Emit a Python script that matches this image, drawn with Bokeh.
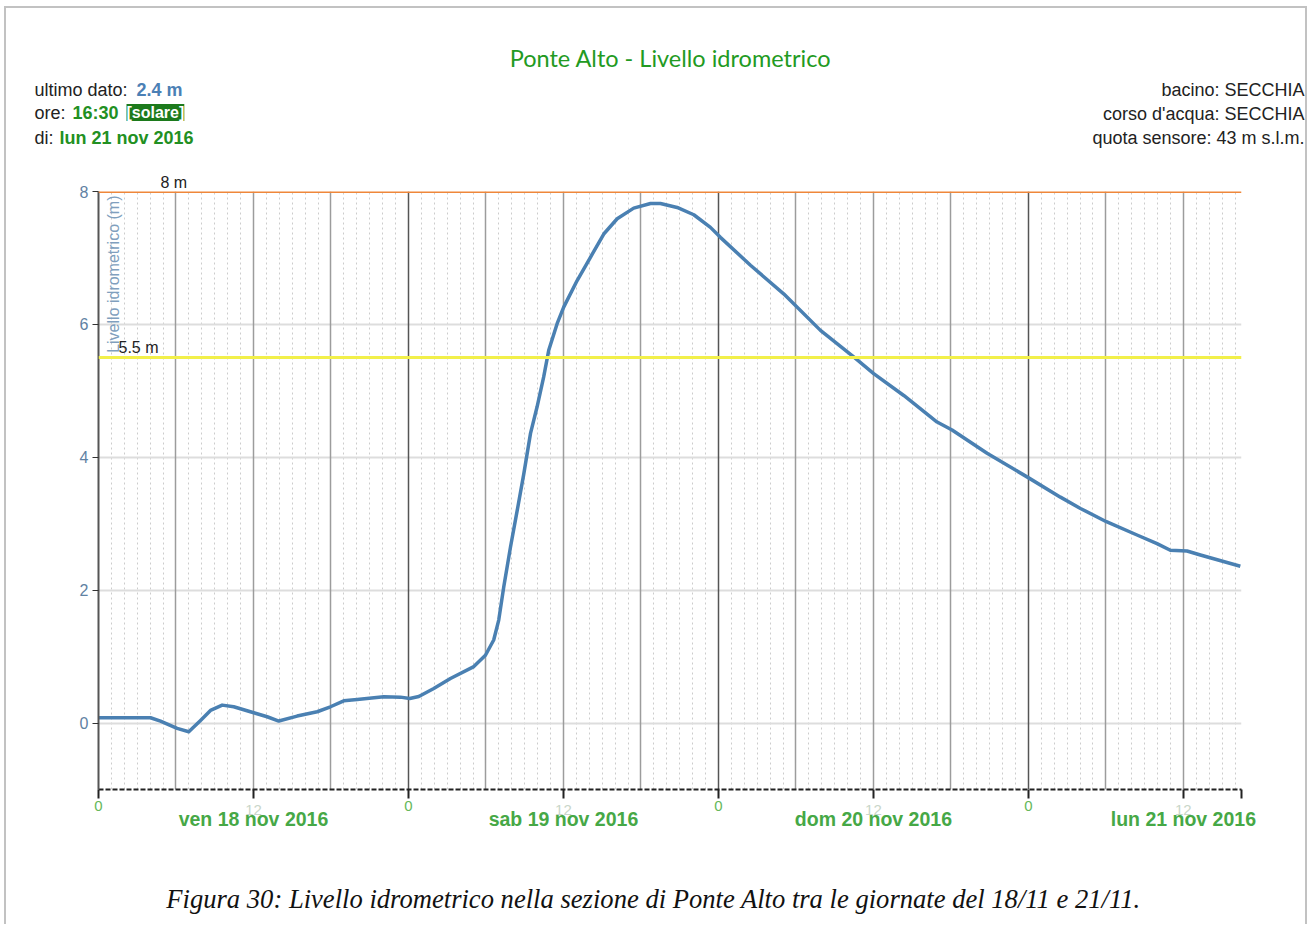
import math
from bokeh.plotting import figure
from bokeh.layouts import column
from bokeh.models import Range1d, FixedTicker, LinearAxis, Grid, Span, Label, Title, Plot
from bokeh.embed import file_html
from bokeh.resources import INLINE

# ---- data (hours since 18 nov 2016 00:00, level in m) ----
hours = [0.0, 4.03, 4.80, 6.09, 6.99, 7.90, 8.67, 9.58, 10.47, 12.02, 13.06, 13.96,
         15.38, 16.93, 17.96, 18.99, 20.03, 22.09, 23.38, 24.10, 24.80, 25.96, 27.25,
         29.06, 29.96, 30.60, 30.99, 31.38, 31.90, 32.42, 32.93, 33.45, 33.96, 34.47,
         34.86, 35.51, 36.02, 37.06, 38.09, 39.12, 40.16, 41.44, 42.74, 43.51, 44.80,
         46.09, 47.38, 48.15, 50.48, 53.05, 55.90, 58.47, 60.02, 62.35, 64.93, 66.09,
         68.80, 72.02, 74.48, 76.03, 78.04, 80.41, 81.96, 82.99, 84.28, 85.32, 88.41]
level = [0.08, 0.08, 0.03, -0.08, -0.13, 0.04, 0.19, 0.27, 0.245, 0.155, 0.095, 0.03,
         0.105, 0.17, 0.245, 0.335, 0.355, 0.395, 0.39, 0.37, 0.40, 0.52, 0.67,
         0.85, 1.02, 1.25, 1.55, 2.05, 2.65, 3.20, 3.75, 4.36, 4.76, 5.21,
         5.61, 6.01, 6.26, 6.66, 7.01, 7.36, 7.59, 7.75, 7.82, 7.82, 7.76,
         7.65, 7.46, 7.31, 6.89, 6.46, 5.91, 5.51, 5.26, 4.93, 4.53, 4.41,
         4.06, 3.69, 3.40, 3.23, 3.03, 2.83, 2.70, 2.60, 2.59, 2.53, 2.36]

thresholds = [8.0, 5.5]
threshold_labels = ["8 m", "5.5 m"]
threshold_colors = ["#ef873a", "#f2f04a"]

day_ticks = [0, 24, 48, 72]
noon_ticks = [12, 36, 60, 84]
day_labels = ["ven 18 nov 2016", "sab 19 nov 2016", "dom 20 nov 2016", "lun 21 nov 2016"]
y_ticks = [0, 2, 4, 6, 8]
x_start, x_end = 0, 88.5
y_start, y_end = -1, 8

title_text = "Ponte Alto - Livello idrometrico"
caption_text = "Figura 30: Livello idrometrico nella sezione di Ponte Alto tra le giornate del 18/11 e 21/11."

SANS = "'Liberation Sans', Arial, sans-serif"
NARROW = "'Liberation Sans Narrow', Lato, 'Liberation Sans', sans-serif"
SERIF = "'Liberation Serif', 'Times New Roman', serif"

W = 1308
H1, H2, H3 = 160, 690, 74          # header, chart, caption canvases
FL, FT, FW, FH = 98, 31, 1143, 598  # frame inside the chart canvas

CAN_UNALIGN = "frame_align" in Plot.properties()


def lab(fig, text, x, y, size, color="#222222", font=SANS, style="normal",
        align="left", baseline="middle", angle=0, bg=None):
    l = Label(x=x, y=y, x_units="screen", y_units="screen", text=text,
              text_font=font, text_font_size=size, text_color=color,
              text_font_style=style, text_align=align, text_baseline=baseline,
              angle=angle)
    if bg is not None:
        l.background_fill_color = bg
    fig.add_layout(l)
    return l


def text_canvas(h):
    f = figure(width=W, height=h, output_backend="svg", toolbar_location=None,
               x_axis_type=None, y_axis_type=None, min_border=0,
               x_range=Range1d(0, W), y_range=Range1d(0, h))
    f.outline_line_color = None
    f.xgrid.visible = False
    f.ygrid.visible = False
    f.background_fill_color = None
    f.border_fill_color = None
    if CAN_UNALIGN:
        f.frame_align = False
    return f


# ================= header =================
hd = text_canvas(H1)
lab(hd, title_text, 670, H1 - 57, "23.5px", color="#229a22", font=NARROW, align="center")
lab(hd, "ultimo dato:", 34, H1 - 89, "18px")
lab(hd, "2.4 m", 136, H1 - 89, "18px", color="#4b80b5", style="bold")
lab(hd, "ore:", 34, H1 - 112, "18px")
lab(hd, "16:30", 72, H1 - 112, "18px", color="#229022", style="bold")
lab(hd, "[solare]", 126, H1 - 112, "16px", color="white", style="bold", bg="#1c7a1c")
lab(hd, "di:", 34, H1 - 137, "18px")
lab(hd, "lun 21 nov 2016", 59, H1 - 137, "18px", color="#229022", style="bold")
lab(hd, "bacino: SECCHIA", 1304, H1 - 89, "18px", align="right")
lab(hd, "corso d'acqua: SECCHIA", 1304, H1 - 113, "18px", align="right")
lab(hd, "quota sensore: 43 m s.l.m.", 1304, H1 - 137, "18px", align="right")

# ================= chart =================
p = figure(width=W, height=H2, output_backend="svg", toolbar_location=None,
           x_range=Range1d(x_start, x_end), y_range=Range1d(y_start, y_end),
           min_border_left=FL, min_border_top=FT,
           min_border_right=W - FL - FW, min_border_bottom=H2 - FT - FH)
p.background_fill_color = "white"
p.border_fill_color = None
p.outline_line_color = None
p.xgrid.visible = False
p.ygrid.visible = False
if CAN_UNALIGN:
    p.frame_align = False

# "8 m" threshold label sits just above the frame
p.add_layout(Title(text=threshold_labels[0], align="left", offset=62, standoff=1,
                   text_font=SANS, text_font_size="16px", text_font_style="normal",
                   text_color="#222222"), "above")

# grids
hour_ticks = [h for h in range(1, 89) if h % 6 != 0]
six_ticks = [h for h in range(6, 89, 6) if h % 24 != 0]
g1 = Grid(dimension=0, ticker=FixedTicker(ticks=hour_ticks), grid_line_color="#cccccc",
          grid_line_dash="2 3", grid_line_width=1)
g2 = Grid(dimension=0, ticker=FixedTicker(ticks=six_ticks), grid_line_color="#9c9c9c",
          grid_line_width=1.5)
g3 = Grid(dimension=0, ticker=FixedTicker(ticks=day_ticks[1:]), grid_line_color="#555555",
          grid_line_width=1.5)
g4 = Grid(dimension=1, ticker=FixedTicker(ticks=y_ticks), grid_line_color="#dddddd",
          grid_line_width=2)
for g in (g1, g4, g2, g3):
    p.add_layout(g)

# thresholds
for v, c in zip(thresholds, threshold_colors):
    p.add_layout(Span(location=v, dimension="width", line_color=c, line_width=3))

# series
p.line(hours, level, line_color="#4a80b2", line_width=3.5, line_join="round")

# y axis
ya = p.yaxis[0]
ya.ticker = FixedTicker(ticks=y_ticks)
ya.axis_line_color = "#555555"
ya.axis_line_width = 2
ya.major_tick_out = 6
ya.major_tick_in = 0
ya.major_tick_line_color = "#333333"
ya.minor_tick_line_color = None
ya.major_label_text_color = "#5f82a3"
ya.major_label_text_font = SANS
ya.major_label_text_font_size = "16px"
ya.major_label_standoff = 4

# x axes
xa = p.xaxis[0]
all_ticks = sorted(day_ticks + noon_ticks + [x_end])
xa.ticker = FixedTicker(ticks=all_ticks)
xa.major_label_overrides = {t: ("0" if t in day_ticks else "") for t in all_ticks}
xa.axis_line_color = "#222222"
xa.axis_line_width = 2
xa.axis_line_dash = "5 2"
xa.major_tick_out = 9
xa.major_tick_in = 0
xa.major_tick_line_color = "#222222"
xa.major_tick_line_width = 2
xa.minor_tick_line_color = None
xa.major_label_text_color = "#66b85a"
xa.major_label_text_font = SANS
xa.major_label_text_font_size = "15px"
xa.major_label_standoff = 2

xb = LinearAxis(ticker=FixedTicker(ticks=noon_ticks),
                major_label_overrides={t: "12" for t in noon_ticks})
xb.axis_line_color = None
xb.major_tick_line_color = None
xb.minor_tick_line_color = None
xb.major_label_text_color = "#c9d6c9"
xb.major_label_text_font = SANS
xb.major_label_text_font_size = "15px"
xb.major_label_standoff = -15
p.add_layout(xb, "below")

xc = LinearAxis(ticker=FixedTicker(ticks=noon_ticks),
                major_label_overrides={t: s for t, s in zip(noon_ticks, day_labels)})
xc.axis_line_color = None
xc.major_tick_line_color = None
xc.minor_tick_line_color = None
xc.major_label_text_color = "#46a846"
xc.major_label_text_font = SANS
xc.major_label_text_font_style = "bold"
xc.major_label_text_font_size = "19.5px"
xc.major_label_standoff = -16
p.add_layout(xc, "below")

# texts inside the frame (x from frame left, y from frame bottom)
lab(p, threshold_labels[1], 20, 442, "16px")
lab(p, "Livello idrometrico (m)", 15, 594, "16px", color="#809fbe", align="right",
    angle=math.pi / 2)

# ================= caption =================
cp = text_canvas(H3)
lab(cp, caption_text, 653, H3 - (898 - H1 - H2), "26.6px", color="#111111", font=SERIF,
    style="italic", align="center")

# thin grey page border (left, top, right) drawn behind the transparent canvases
border_css = {
    "background-image": ("linear-gradient(#c2c2c2,#c2c2c2),"
                         "linear-gradient(#c2c2c2,#c2c2c2),"
                         "linear-gradient(#c2c2c2,#c2c2c2)"),
    "background-size": "2px 100%, 2px 100%, 1302px 2px",
    "background-position": "4px 6px, 1305px 6px, 4px 6px",
    "background-repeat": "no-repeat",
    "background-color": "white",
}

if CAN_UNALIGN:
    doc = column(hd, p, cp, spacing=0, styles=border_css)
else:
    doc = [hd, p, cp]
open("out.html", "w").write(file_html(doc, INLINE))
